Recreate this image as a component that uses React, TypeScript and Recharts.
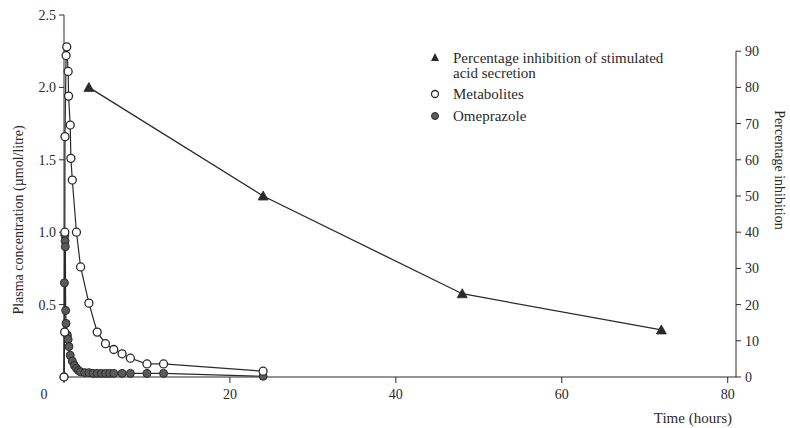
import { ComposedChart, Label, Legend, Line, ReferenceLine, XAxis, YAxis } from "recharts";

const FONT = '"Liberation Serif", "DejaVu Serif", serif';
const INK = "#2a2a2a";
const DOT_FILL = "#5a5a5a";

// time in hours after dose
const metaboliteHours = [0, 0.08, 0.1, 0.12, 0.25, 0.33, 0.5, 0.55, 0.75, 0.83, 1, 1.5, 2, 3, 4, 5, 6, 7, 8, 10, 12, 24];
const metaboliteConc = [0, 0.31, 1.0, 1.66, 2.22, 2.28, 2.11, 1.94, 1.74, 1.51, 1.36, 1.0, 0.76, 0.51, 0.31, 0.23, 0.19, 0.16, 0.13, 0.09, 0.09, 0.04];

const omeprazoleHours = [0, 0.05, 0.1, 0.13, 0.16, 0.2, 0.25, 0.4, 0.5, 0.6, 0.75, 1, 1.25, 1.5, 1.75, 2, 2.5, 3, 3.5, 4, 4.5, 5, 5.5, 6, 7, 8, 10, 12, 24];
const omeprazoleConc = [0, 0.65, 0.98, 0.94, 0.9, 0.46, 0.37, 0.29, 0.26, 0.21, 0.15, 0.11, 0.08, 0.06, 0.045, 0.035, 0.03, 0.03, 0.025, 0.025, 0.025, 0.025, 0.025, 0.025, 0.025, 0.025, 0.025, 0.025, 0.005];

const inhibitionHours = [3, 24, 48, 72];
const inhibitionPct = [80, 50, 23, 13];

const concTicks = [0.5, 1.0, 1.5, 2.0, 2.5];
const pctTicks = [0, 10, 20, 30, 40, 50, 60, 70, 80, 90];
const timeTicks = [0, 20, 40, 60, 80];

const metabolites = metaboliteHours.map((t, i) => ({ t, conc: metaboliteConc[i] }));
const omeprazole = omeprazoleHours.map((t, i) => ({ t, conc: omeprazoleConc[i] }));
const inhibition = inhibitionHours.map((t, i) => ({ t, pct: inhibitionPct[i] }));

const tickStyle = { fontFamily: FONT, fontSize: 14, fill: INK };

function Triangle(props: any) {
  const { cx, cy, index } = props;
  if (cx == null || cy == null) return null;
  return (
    <path
      key={`tri-${index}`}
      d={`M${cx},${cy - 5} L${cx + 5},${cy + 4} L${cx - 5},${cy + 4} Z`}
      fill={INK}
      stroke={INK}
      strokeWidth={0.8}
    />
  );
}

function TimeTick(props: any) {
  const { x, y, payload } = props;
  const v = payload.value;
  return (
    <text x={v === 0 ? x - 20 : x} y={y} dy="0.71em" textAnchor="middle" style={tickStyle}>
      {v}
    </text>
  );
}

function LegendBox() {
  const text = { fontFamily: FONT, fontSize: 15, fill: INK };
  return (
    <svg width={300} height={80}>
      <path d="M7,5 L11,13 L3,13 Z" fill={INK} />
      <text x={25} y={15} style={text}>Percentage inhibition of stimulated</text>
      <text x={25} y={30} style={text}>acid secretion</text>
      <circle cx={7} cy={46} r={3.5} fill="#fff" stroke={INK} strokeWidth={1.3} />
      <text x={25} y={51} style={text}>Metabolites</text>
      <circle cx={7} cy={68} r={3.5} fill={DOT_FILL} stroke={INK} strokeWidth={1} />
      <text x={25} y={73} style={text}>Omeprazole</text>
    </svg>
  );
}

export default function App() {
  return (
    <div style={{ width: 790, height: 428, background: "#fff" }}>
      <style>{"body{margin:0}"}</style>
      <ComposedChart width={790} height={428} margin={{ top: 15, right: 10, bottom: 21, left: 0 }}>
        <XAxis
          xAxisId={0}
          type="number"
          dataKey="t"
          domain={[0, 81]}
          ticks={timeTicks}
          tick={<TimeTick />}
          tickSize={6}
          tickMargin={6}
          height={30}
          stroke={INK}
          allowDecimals
        >
          <Label
            content={({ viewBox }: any) => (
              <text
                x={viewBox.x + viewBox.width - 4}
                y={viewBox.y + 46}
                textAnchor="end"
                style={{ fontFamily: FONT, fontSize: 15, fill: INK }}
              >
                Time (hours)
              </text>
            )}
          />
        </XAxis>
        <YAxis
          yAxisId="left"
          domain={[0, 2.5]}
          ticks={concTicks}
          tickFormatter={(v: number) => v.toFixed(1)}
          width={64}
          tickSize={5}
          tickMargin={3}
          tick={tickStyle}
          stroke={INK}
        >
          <Label
            content={({ viewBox }: any) => {
              const cx = viewBox.x + 18;
              const cy = viewBox.y + viewBox.height / 2 + 24;
              return (
                <text
                  x={cx}
                  y={cy}
                  transform={`rotate(-90 ${cx} ${cy})`}
                  textAnchor="middle"
                  dominantBaseline="central"
                  style={{ fontFamily: FONT, fontSize: 14, fill: INK }}
                >
                  Plasma concentration (µmol/litre)
                </text>
              );
            }}
          />
        </YAxis>
        <YAxis
          yAxisId="right"
          orientation="right"
          domain={[0, 100]}
          ticks={pctTicks}
          width={44}
          tickSize={5}
          tickMargin={4}
          tick={tickStyle}
          axisLine={false}
          stroke={INK}
        >
          <Label
            content={({ viewBox }: any) => {
              const cx = viewBox.x + 43;
              const cy = viewBox.y + viewBox.height / 2 - 26;
              return (
                <text
                  x={cx}
                  y={cy}
                  transform={`rotate(90 ${cx} ${cy})`}
                  textAnchor="middle"
                  dominantBaseline="central"
                  style={{ fontFamily: FONT, fontSize: 14, fill: INK }}
                >
                  Percentage inhibition
                </text>
              );
            }}
          />
        </YAxis>
        {/* right axis spine only runs up to 90 % */}
        <ReferenceLine
          yAxisId="right"
          segment={[
            { x: 81, y: 0 },
            { x: 81, y: 90 },
          ]}
          stroke={INK}
          strokeWidth={1}
          ifOverflow="visible"
        />
        <Line
          yAxisId="left"
          data={omeprazole}
          dataKey="conc"
          type="linear"
          stroke={INK}
          strokeWidth={1.2}
          dot={{ r: 4, fill: DOT_FILL, stroke: INK, strokeWidth: 1 }}
          isAnimationActive={false}
        />
        <Line
          yAxisId="left"
          data={metabolites}
          dataKey="conc"
          type="linear"
          stroke={INK}
          strokeWidth={1.2}
          dot={{ r: 4, fill: "#fff", stroke: INK, strokeWidth: 1.3 }}
          isAnimationActive={false}
        />
        <Line
          yAxisId="right"
          data={inhibition}
          dataKey="pct"
          type="linear"
          stroke={INK}
          strokeWidth={1.3}
          dot={<Triangle />}
          isAnimationActive={false}
        />
        <Legend
          layout="horizontal"
          verticalAlign="middle"
          align="center"
          wrapperStyle={{ left: 428, top: 48, width: 300 }}
          content={() => <LegendBox />}
        />
      </ComposedChart>
    </div>
  );
}
